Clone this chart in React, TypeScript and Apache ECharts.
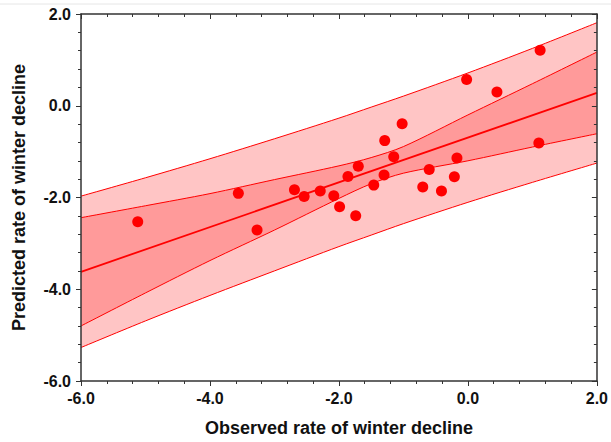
import React, { useEffect, useRef } from "react";
import * as echarts from "echarts";

// Observed points
const obsX = [-5.12, -3.56, -3.27, -2.69, -2.54, -2.29, -2.08, -1.99, -1.74, -1.86, -1.7, -1.46, -1.3, -1.29, -1.15, -1.02, -0.7, -0.6, -0.41, -0.21, -0.17, -0.02, 0.45, 1.1, 1.12];
const predY = [-2.53, -1.91, -2.71, -1.83, -1.98, -1.86, -1.96, -2.2, -2.4, -1.54, -1.32, -1.73, -1.51, -0.76, -1.11, -0.39, -1.77, -1.39, -1.86, -1.55, -1.14, 0.57, 0.3, -0.81, 1.21];

// Regression line end points
const regX = [-6, 2];
const regY = [-3.62, 0.28];

// Confidence (inner) and prediction (outer) bands
const bandX = [-6, -5, -4, -3, -2, -1.5, -1, 0, 1, 2];
const ciUpper = [-2.44, -2.18, -1.915, -1.61, -1.31, -1.13, -0.89, -0.2, 0.48, 1.17];
const ciLower = [-4.8, -4.08, -3.375, -2.71, -2.02, -1.7, -1.47, -1.2, -0.9, -0.61];
const piUpper = [-1.97, -1.57, -1.155, -0.72, -0.27, -0.03, 0.21, 0.715, 1.25, 1.81];
const piLower = [-5.27, -4.69, -4.135, -3.6, -3.07, -2.82, -2.57, -2.105, -1.67, -1.25];

const xTitle = "Observed rate of winter decline";
const yTitle = "Predicted rate of winter decline";

const RED = "#ff0000";
const LIGHT = "#ffc5c5";
const DARK = "#ff9a9a";
const FONT = "'Liberation Sans', Arial, sans-serif";

export default function App() {
  const ref = useRef<HTMLDivElement>(null);
  useEffect(() => {
    if (!ref.current) return;
    const chart = echarts.init(ref.current, undefined, { renderer: "svg" });
    const pairs = (xs: number[], ys: number[]) => xs.map((x, i) => [x, ys[i]]);
    const axisCommon = {
      type: "value" as const,
      min: -6,
      max: 2,
      interval: 2,
      splitLine: { show: false },
      axisLine: { show: true, onZero: false, lineStyle: { color: "#333", width: 1.5 } },
      z: 10,
    };
    const bandLine = { color: RED, width: 1 };
    const band = (ys: number[], fill: string, z: number) => ({
      type: "line",
      data: pairs(bandX, ys),
      smooth: 0.3,
      symbol: "none",
      lineStyle: bandLine,
      areaStyle: { color: fill, opacity: 1, origin: "start" },
      z,
    });
    chart.setOption({
      animation: false,
      grid: { left: 81, right: 12, top: 14, bottom: 58, containLabel: false },
      graphic: [
        { type: "line", shape: { x1: 0, y1: 4, x2: 611, y2: 4 }, style: { stroke: "#e6e6e6", lineWidth: 1 } },
      ],
      xAxis: [
        {
          ...axisCommon,
          position: "bottom",
          name: xTitle,
          nameLocation: "middle",
          nameGap: 38,
          nameTextStyle: { fontFamily: FONT, fontWeight: "bold", fontSize: 18, color: "#111" },
          axisTick: { show: true, inside: false, length: 5, lineStyle: { color: "#333" } },
          minorTick: { show: true, splitNumber: 5, length: 3, lineStyle: { color: "#333" } },
          axisLabel: {
            margin: 9,
            fontFamily: FONT,
            fontWeight: "bold",
            fontSize: 16,
            color: "#111",
            formatter: (v: number) => v.toFixed(1),
          },
        },
        {
          ...axisCommon,
          position: "top",
          axisTick: { show: true, inside: true, length: 5, lineStyle: { color: "#333" } },
          minorTick: { show: true, splitNumber: 5, length: 3, lineStyle: { color: "#333" } },
          axisLabel: { show: false },
        },
      ],
      yAxis: [
        {
          ...axisCommon,
          position: "left",
          name: yTitle,
          nameLocation: "middle",
          nameGap: 53,
          nameTextStyle: { fontFamily: FONT, fontWeight: "bold", fontSize: 18, color: "#111" },
          axisTick: { show: true, inside: false, length: 5, lineStyle: { color: "#333" } },
          minorTick: { show: true, splitNumber: 5, length: 3, lineStyle: { color: "#333" } },
          axisLabel: {
            margin: 10,
            fontFamily: FONT,
            fontWeight: "bold",
            fontSize: 16,
            color: "#111",
            formatter: (v: number) => v.toFixed(1),
          },
        },
        {
          ...axisCommon,
          position: "right",
          axisTick: { show: true, inside: true, length: 5, lineStyle: { color: "#333" } },
          minorTick: { show: true, splitNumber: 5, length: 3, lineStyle: { color: "#333" } },
          axisLabel: { show: false },
        },
      ],
      series: [
        band(piUpper, LIGHT, 2),
        band(ciUpper, DARK, 2),
        band(ciLower, LIGHT, 2),
        band(piLower, "#ffffff", 2),
        {
          type: "line",
          data: pairs(regX, regY),
          symbol: "none",
          lineStyle: { color: RED, width: 1.8 },
          z: 3,
        },
        {
          type: "scatter",
          data: pairs(obsX, predY),
          symbol: "circle",
          symbolSize: 11,
          itemStyle: { color: RED, opacity: 1 },
          z: 4,
        },
      ],
    });
    return () => chart.dispose();
  }, []);
  return (
    <div
      ref={ref}
      style={{ position: "fixed", left: 0, top: 0, width: 611, height: 442, background: "#fff" }}
    />
  );
}
